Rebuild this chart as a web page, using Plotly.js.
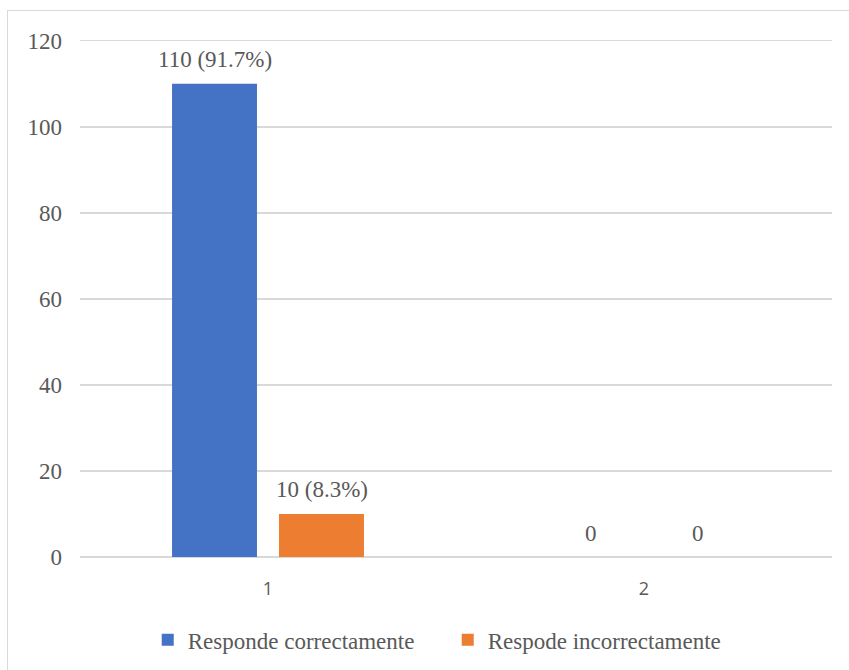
<!DOCTYPE html>
<html>
<head>
<meta charset="utf-8">
<script src="https://cdn.plot.ly/plotly-3.0.1.min.js"></script>
<style>
html,body{margin:0;padding:0;background:#fff;}
#wrap{position:relative;width:849px;height:670px;}
#chart{position:absolute;left:0;top:0;width:849px;height:670px;}
#frame{position:absolute;left:7px;top:10px;width:842px;height:660px;border-top:1.5px solid #d9d9d9;border-left:1.5px solid #d9d9d9;pointer-events:none;}
</style>
</head>
<body>
<div id="wrap"><div id="chart"></div><div id="frame"></div></div>
<script>
const categories = ["1", "2"];
const correctValues = [110, 0];
const incorrectValues = [10, 0];
const correctLabels = ["110 (91.7%)", "0"];
const incorrectLabels = ["10 (8.3%)", "0"];
const seriesNames = ["Responde correctamente", "Respode incorrectamente"];
const yTicks = [0, 20, 40, 60, 80, 100, 120];

const serif = "Liberation Serif, Times New Roman, serif";
const textColor = "#595959";
const labelFont = {family:serif, size:23, color:textColor};

const traces = [
  {type:"bar", x:categories, y:correctValues, name:seriesNames[0], marker:{color:"#4472C4"}},
  {type:"bar", x:categories, y:incorrectValues, name:seriesNames[1], marker:{color:"#ED7D31"}}
];

// data labels placed above each bar, shifted to the bar's slot within the group
const annotations = [];
const series = [[correctValues, correctLabels, -53.5], [incorrectValues, incorrectLabels, 53.5]];
series.forEach(([vals, labels, shift]) => {
  categories.forEach((c, i) => {
    annotations.push({x:i, y:vals[i], xref:"x", yref:"y", text:labels[i], showarrow:false,
      xshift:shift, yshift:24, yanchor:"middle", xanchor:"center", font:labelFont});
  });
});

const layout = {
  width:849, height:670,
  margin:{l:80, r:17, t:39, b:113, autoexpand:false},
  paper_bgcolor:"#fff", plot_bgcolor:"#fff",
  barmode:"group", bargap:0.431, bargroupgap:0.206,
  showlegend:true,
  annotations:annotations,
  legend:{orientation:"h", x:0.489, xanchor:"center", y:-0.16, yanchor:"middle",
          font:{family:serif, size:23, color:textColor}, itemwidth:30, traceorder:"normal",
          entrywidth:255, entrywidthmode:"pixels"},
  xaxis:{type:"category", showgrid:false, zeroline:false, showline:false, ticks:"",
         tickfont:{family:"Open Sans, Liberation Sans, sans-serif", size:18, color:textColor},
         ticklabelstandoff:19},
  yaxis:{range:[0,120.4], tickvals:yTicks, showgrid:true, gridcolor:"#d9d9d9", gridwidth:1.5,
         zeroline:true, zerolinecolor:"#d9d9d9", zerolinewidth:1.5, showline:false, ticks:"",
         tickfont:{family:serif, size:23, color:textColor}, ticklabelstandoff:17}
};

Plotly.newPlot("chart", traces, layout, {displayModeBar:false, staticPlot:true});
</script>
</body>
</html>
